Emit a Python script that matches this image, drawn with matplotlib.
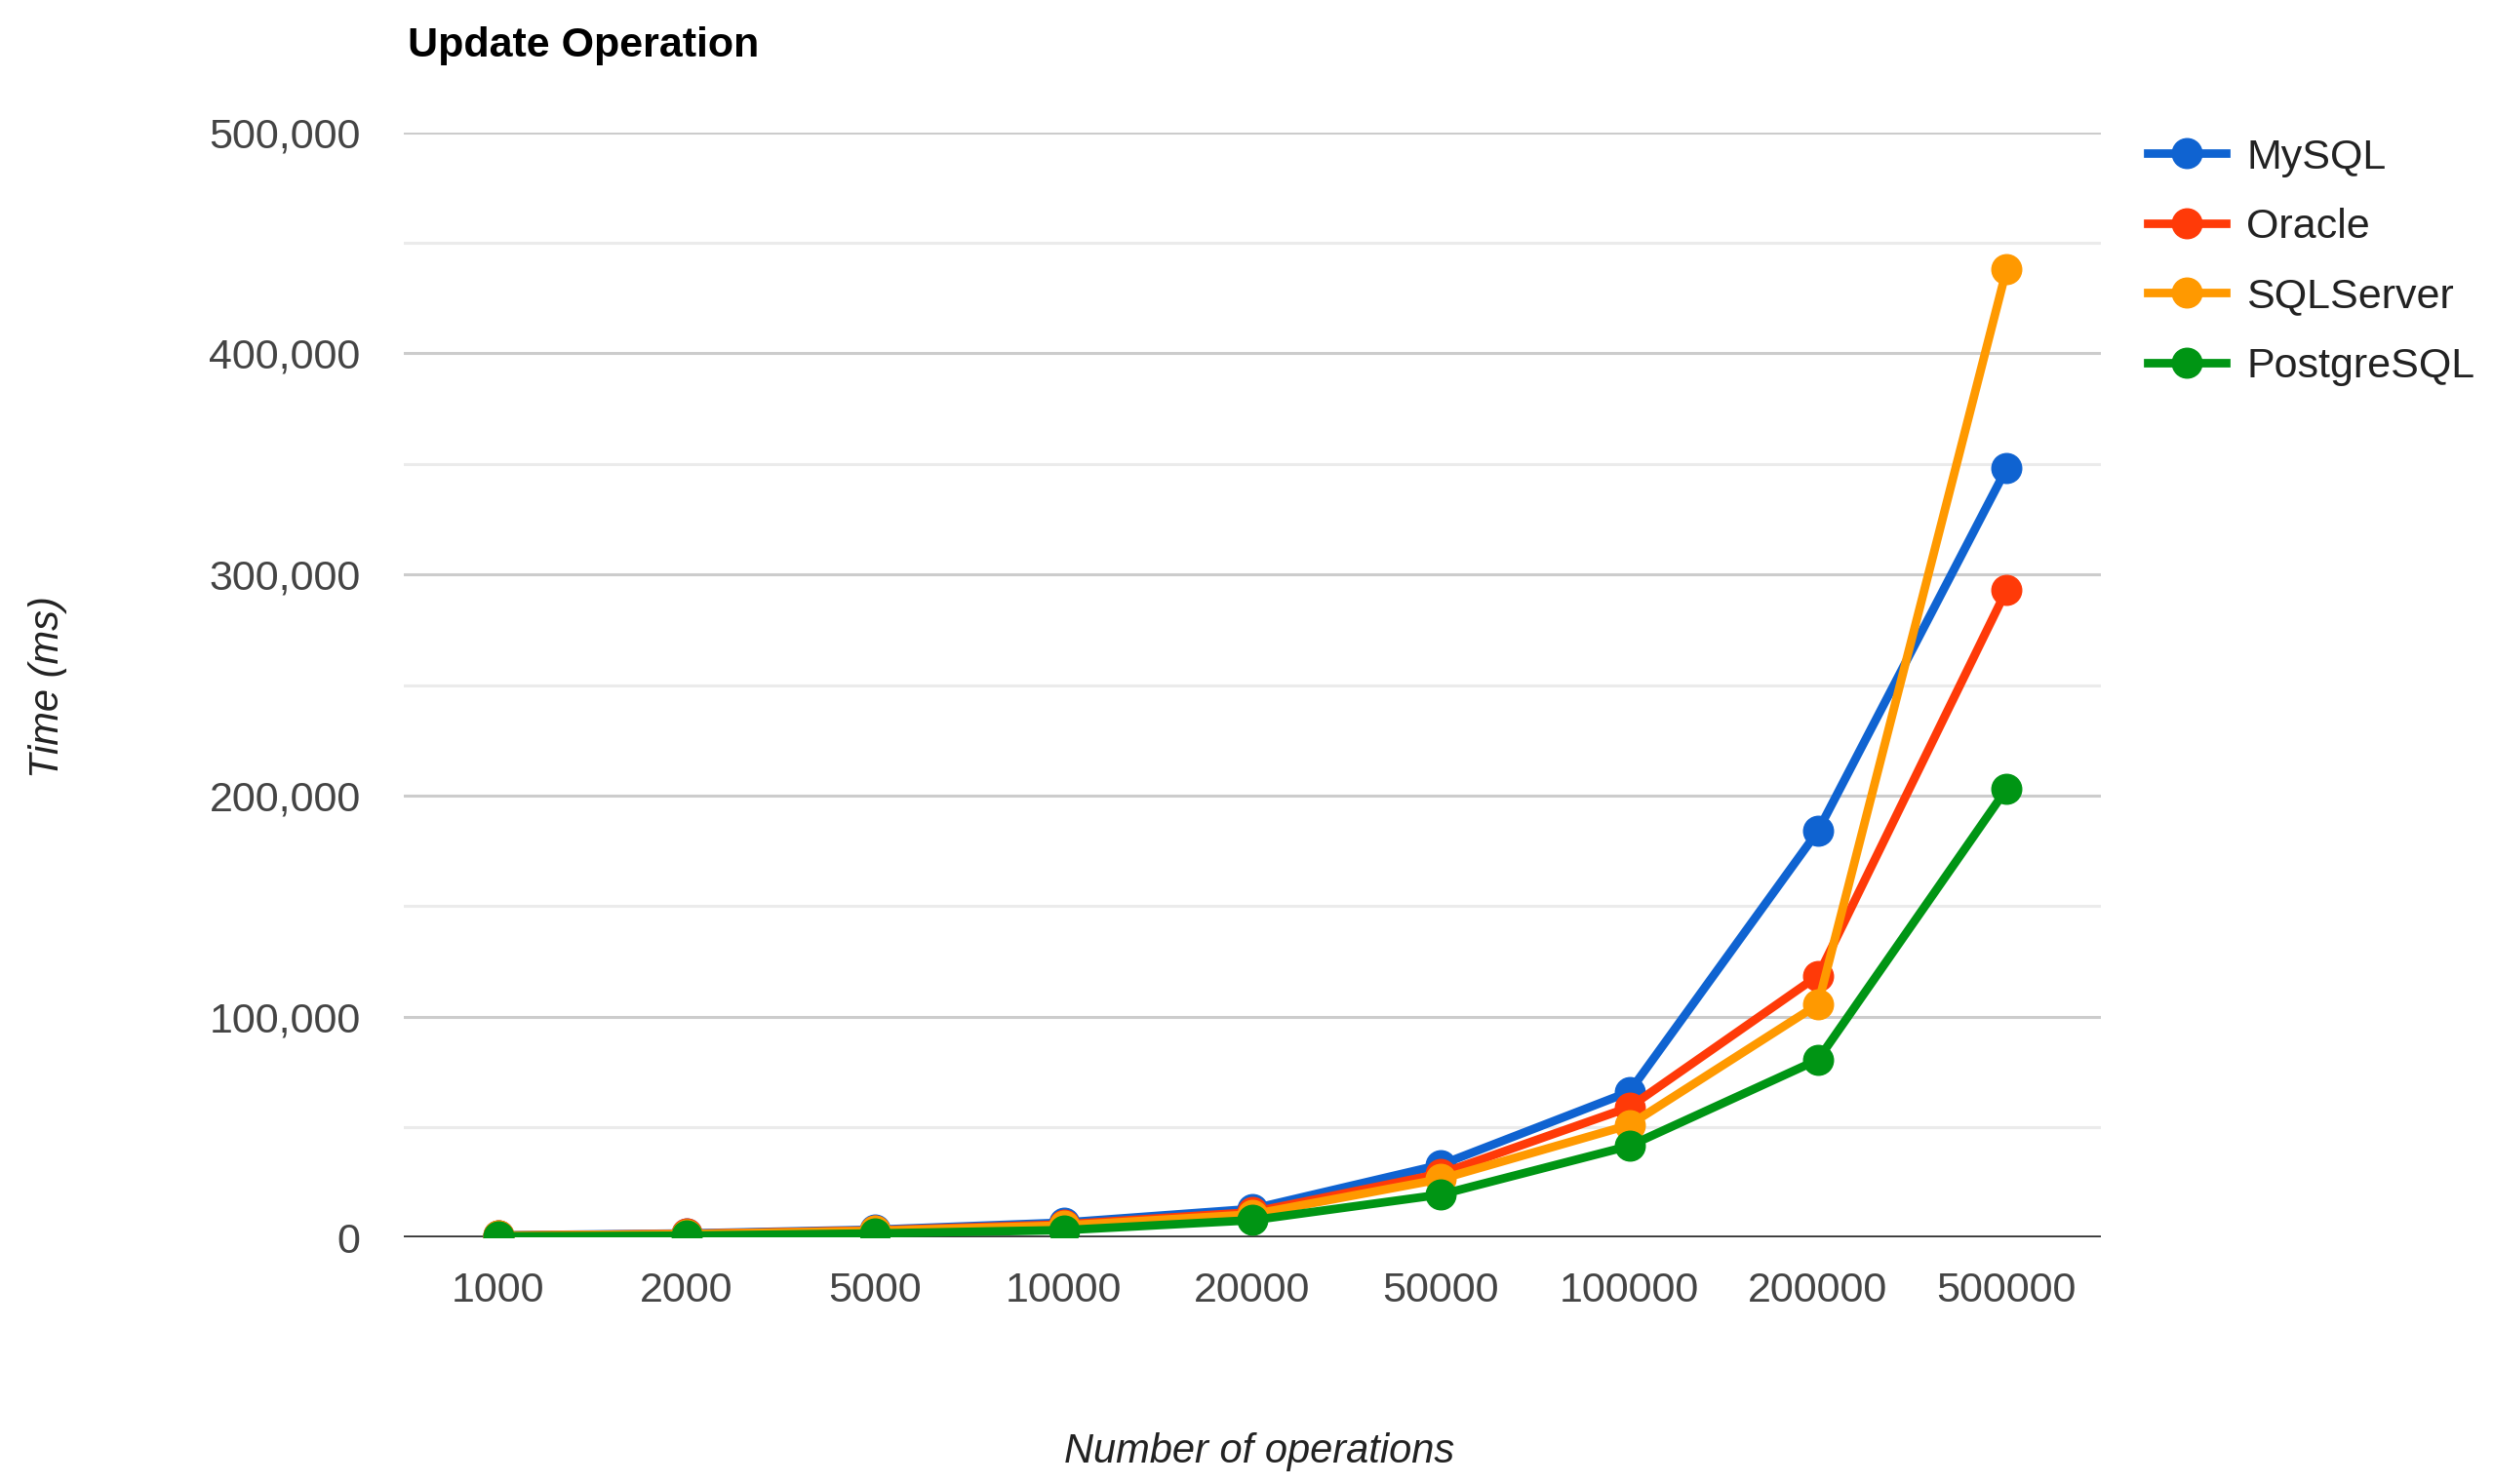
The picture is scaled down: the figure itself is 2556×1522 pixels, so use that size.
import numpy as np
import matplotlib
matplotlib.use("Agg")
import matplotlib.pyplot as plt

# values (time in ms)
ops = ["1000", "2000", "5000", "10000", "20000", "50000", "100000", "200000", "500000"]
mysql = [1000, 1900, 3600, 6800, 13000, 33000, 66000, 184000, 348000]
oracle = [900, 1700, 3300, 6000, 11500, 29000, 59000, 118500, 293000]
sqlserver = [900, 1600, 3100, 5500, 10500, 26500, 51000, 105500, 438000]
postgres = [600, 900, 1900, 3400, 7900, 19500, 41500, 80500, 203000]

series = [
    ("MySQL", mysql, "#0f63d1"),
    ("Oracle", oracle, "#ff3a08"),
    ("SQLServer", sqlserver, "#ff9900"),
    ("PostgreSQL", postgres, "#009514"),
]

plt.rcParams["font.family"] = ["Liberation Sans", "DejaVu Sans"]

fig = plt.figure(figsize=(25.56, 15.22), dpi=100)
ax = fig.add_axes([0.162, 0.166, 0.6807, 0.7448])

x = np.arange(len(ops))
for name, vals, col in series:
    ax.plot(x, vals, color=col, lw=6.3, marker="o", ms=22, label=name,
            solid_joinstyle="round", zorder=3)

ax.set_xlim(-0.5, len(ops) - 0.5)
ax.set_ylim(0, 500000)

# gridlines: major every 100k, lighter minor at 50k
for v in range(50000, 500001, 50000):
    c = "#cccccc" if v % 100000 == 0 else "#ebebeb"
    ax.axhline(v, color=c, lw=2.2, zorder=1)
ax.axhline(0, color="#333333", lw=2.6, zorder=2)

ax.set_yticks(range(0, 500001, 100000))
ax.set_yticklabels([f"{v:,}" for v in range(0, 500001, 100000)])
ax.set_xticks(x)
ax.set_xticklabels(ops)
ax.tick_params(axis="both", length=0, labelsize=31, labelcolor="#444444")
ax.tick_params(axis="y", pad=32)
ax.tick_params(axis="x", pad=25)
for s in ax.spines.values():
    s.set_visible(False)

fig.text(0.1635, 0.969, "Update Operation", fontsize=31, fontweight="bold",
         color="#000000", ha="left", va="center")
fig.text(0.019, 0.537, "Time (ms)", fontsize=30, style="italic", color="#222222",
         rotation=90, ha="center", va="center")
fig.text(0.505, 0.022, "Number of operations", fontsize=30, style="italic",
         color="#222222", ha="center", va="center")

fig.legend(loc="upper left", bbox_to_anchor=(0.8615, 0.907), frameon=False,
           fontsize=31, handlelength=1.85, handletextpad=0.5, labelspacing=0.73,
           borderpad=0, borderaxespad=0, labelcolor="#222222")

fig.savefig("out.png", dpi=100)
